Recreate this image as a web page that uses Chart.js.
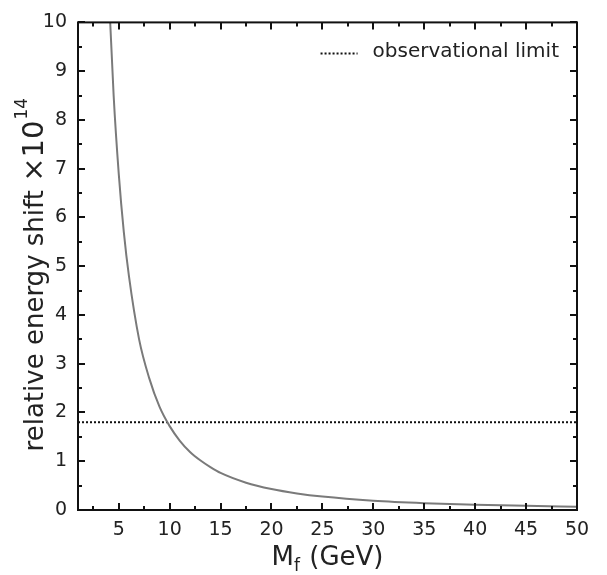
<!DOCTYPE html>
<html>
<head>
<meta charset="utf-8">
<script src="https://cdn.jsdelivr.net/npm/chart.js@4.4.0/dist/chart.umd.min.js"></script>
<style>
  body { margin: 0; background: #fff; }
  #caja { width: 607px; height: 575px; }
</style>
</head>
<body>
<div id="caja"><canvas id="grafico"></canvas></div>
<script>
// masa M_f (GeV) y desplazamiento relativo de energia (x10^14)
var masas = [4.0, 4.5, 5, 5.5, 6, 7, 8, 9, 10, 11, 12, 13, 14, 15, 17.5, 20, 22.5, 25, 30, 35, 40, 45, 50];
var desplazamiento = [10.75, 8.5, 6.9, 5.7, 4.8, 3.5, 2.7, 2.12, 1.72, 1.42, 1.19, 1.02, 0.88, 0.76, 0.56, 0.43, 0.34, 0.275, 0.19, 0.14, 0.108, 0.085, 0.069];
// limite observacional
var limiteX = [1, 50];
var limiteY = [1.8, 1.8];
// marcas de los ejes
var ticksX = [5, 10, 15, 20, 25, 30, 35, 40, 45, 50];
var menoresX = [2.5, 7.5, 12.5, 17.5, 22.5, 27.5, 32.5, 37.5, 42.5, 47.5];
var ticksY = [0, 1, 2, 3, 4, 5, 6, 7, 8, 9, 10];
var menoresY = [0.5, 1.5, 2.5, 3.5, 4.5, 5.5, 6.5, 7.5, 8.5, 9.5];

var fuente = "'DejaVu Sans', Verdana, sans-serif";

// plugin que dibuja el marco, las marcas hacia dentro, la leyenda y los titulos
var marcoPlugin = {
  id: 'marco',
  afterDraw: function(chart) {
    var ctx = chart.ctx;
    var a = chart.chartArea;
    var sx = chart.scales.x, sy = chart.scales.y;
    ctx.save();
    ctx.strokeStyle = '#111';
    ctx.lineWidth = 2;
    ctx.strokeRect(a.left, a.top, a.right - a.left, a.bottom - a.top);
    function marcaX(v, largo) {
      var px = Math.round(sx.getPixelForValue(v));
      ctx.beginPath();
      ctx.moveTo(px, a.bottom); ctx.lineTo(px, a.bottom - largo);
      ctx.moveTo(px, a.top); ctx.lineTo(px, a.top + largo);
      ctx.stroke();
    }
    function marcaY(v, largo) {
      var py = Math.round(sy.getPixelForValue(v));
      ctx.beginPath();
      ctx.moveTo(a.left, py); ctx.lineTo(a.left + largo, py);
      ctx.moveTo(a.right, py); ctx.lineTo(a.right - largo, py);
      ctx.stroke();
    }
    ticksX.forEach(function(v) { marcaX(v, 7); });
    menoresX.forEach(function(v) { marcaX(v, 4); });
    ticksY.forEach(function(v) { marcaY(v, 7); });
    menoresY.forEach(function(v) { marcaY(v, 4); });

    // leyenda
    ctx.fillStyle = '#222';
    ctx.font = '20px ' + fuente;
    ctx.textAlign = 'right';
    ctx.textBaseline = 'middle';
    var texto = 'observational limit';
    var xt = a.right - 18, yt = a.top + 29;
    ctx.fillText(texto, xt, yt);
    var ancho = ctx.measureText(texto).width;
    ctx.setLineDash([2, 2]);
    ctx.beginPath();
    ctx.moveTo(xt - ancho - 52, yt + 2);
    ctx.lineTo(xt - ancho - 15, yt + 2);
    ctx.stroke();
    ctx.setLineDash([]);

    // titulo eje x: M_f (GeV)
    ctx.textAlign = 'left';
    ctx.textBaseline = 'alphabetic';
    var base = 565;
    ctx.font = '26px ' + fuente;
    var wM = ctx.measureText('M').width;
    ctx.font = '17px ' + fuente;
    var wf = ctx.measureText('f').width;
    ctx.font = '26px ' + fuente;
    var wR = ctx.measureText(' (GeV)').width;
    var x0 = (a.left + a.right) / 2 - (wM + wf + 1 + wR) / 2;
    ctx.fillText('M', x0, base);
    ctx.font = '17px ' + fuente;
    ctx.fillText('f', x0 + wM, base + 6);
    ctx.font = '26px ' + fuente;
    ctx.fillText(' (GeV)', x0 + wM + wf + 1, base);

    // titulo eje y con exponente
    ctx.translate(43, (a.top + a.bottom) / 2 + 9);
    ctx.rotate(-Math.PI / 2);
    var t1 = 'relative energy shift ';
    var t2 = '\u00d710';
    ctx.font = '26px ' + fuente;
    var w1 = ctx.measureText(t1).width;
    ctx.font = '29px ' + fuente;
    var w2 = ctx.measureText(t2).width;
    ctx.font = '17px ' + fuente;
    var w3 = ctx.measureText('14').width;
    var inicio = -(w1 + w2 + w3) / 2;
    ctx.font = '26px ' + fuente;
    ctx.fillText(t1, inicio, 0);
    ctx.font = '29px ' + fuente;
    ctx.fillText(t2, inicio + w1, 0);
    ctx.font = '17px ' + fuente;
    ctx.fillText('14', inicio + w1 + w2 + 1, -16);
    ctx.restore();
  }
};

var canvas = document.getElementById('grafico');
var ctx = canvas.getContext('2d');

var grafico = new Chart(ctx, {
  type: 'line',
  data: {
    datasets: [
      {
        label: 'M_f',
        data: masas.map(function(m, i) { return { x: m, y: desplazamiento[i] }; }),
        borderColor: '#7a7a7a',
        borderWidth: 2,
        pointRadius: 0,
        cubicInterpolationMode: 'monotone',
        fill: false
      },
      {
        label: 'observational limit',
        data: limiteX.map(function(m, i) { return { x: m, y: limiteY[i] }; }),
        borderColor: '#111',
        borderWidth: 2,
        borderDash: [2, 2],
        pointRadius: 0,
        fill: false
      }
    ]
  },
  options: {
    responsive: true,
    maintainAspectRatio: false,
    animation: false,
    layout: { padding: { left: 38, right: 30, top: 13, bottom: 37 } },
    plugins: {
      legend: { display: false },
      tooltip: { enabled: false }
    },
    scales: {
      x: {
        type: 'linear',
        min: 1,
        max: 50,
        afterBuildTicks: function(s) { s.ticks = ticksX.map(function(v) { return { value: v }; }); },
        afterFit: function(s) { s.height = 28; },
        grid: { display: false, drawTicks: false },
        border: { display: false },
        ticks: { color: '#222', padding: 9, maxRotation: 0, font: { family: fuente, size: 19 } }
      },
      y: {
        min: 0,
        max: 10,
        afterBuildTicks: function(s) { s.ticks = ticksY.map(function(v) { return { value: v }; }); },
        afterFit: function(s) { s.width = 40; },
        grid: { display: false, drawTicks: false },
        border: { display: false },
        ticks: { color: '#222', padding: 11, font: { family: fuente, size: 19 } }
      }
    }
  },
  plugins: [marcoPlugin]
});
</script>
</body>
</html>
